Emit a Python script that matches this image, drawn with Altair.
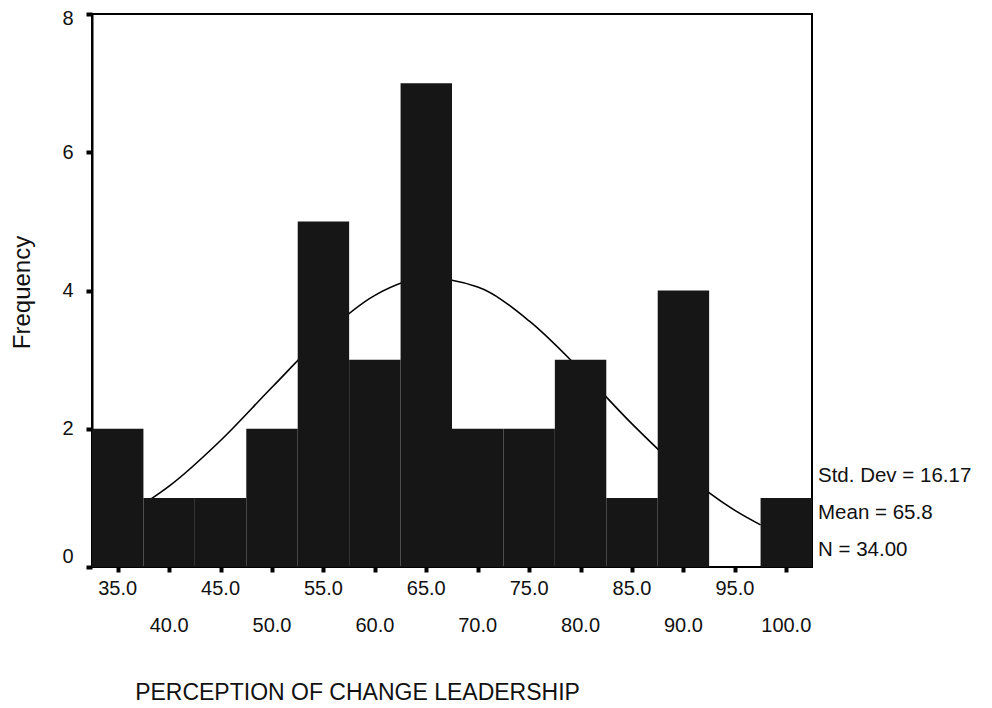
import altair as alt
import pandas as pd

# ---- data ----
bin_centers = [35, 40, 45, 50, 55, 60, 65, 70, 75, 80, 85, 90, 95, 100]
frequencies = [2, 1, 1, 2, 5, 3, 7, 2, 2, 3, 1, 4, 0, 1]
bin_width = 5

curve_x = [38, 40, 45, 50, 55, 60, 65, 70, 75, 80, 85, 90, 95, 97.5]
curve_y = [0.96, 1.17, 1.83, 2.60, 3.35, 3.93, 4.18, 4.05, 3.56, 2.85, 2.07, 1.37, 0.82, 0.61]

labels_row1 = [35, 45, 55, 65, 75, 85, 95]
labels_row2 = [40, 50, 60, 70, 80, 90, 100]
y_ticks = [0, 2, 4, 6, 8]

stats_lines = ["Std. Dev = 16.17", "Mean = 65.8", "N = 34.00"]
x_title = "PERCEPTION OF CHANGE LEADERSHIP"
y_title = "Frequency"

FONT = "Liberation Sans"

bars_df = pd.DataFrame({"center": bin_centers, "freq": frequencies})
bars_df["start"] = bars_df["center"] - bin_width / 2
bars_df["end"] = bars_df["center"] + bin_width / 2

curve_df = pd.DataFrame({"x": curve_x, "y": curve_y})
row1_df = pd.DataFrame({"v": labels_row1, "lab": [f"{v:.1f}" for v in labels_row1]})
row2_df = pd.DataFrame({"v": labels_row2, "lab": [f"{v:.1f}" for v in labels_row2]})

xscale = alt.Scale(domain=[32.5, 102.5], nice=False, zero=False)
yscale = alt.Scale(domain=[0, 8], nice=False, zero=True)

xaxis = alt.Axis(
    values=bin_centers, labels=False, grid=False, domain=False,
    tickSize=5, tickWidth=4, tickColor="black",
    title=x_title, titleX=265, titleY=125, titleAlign="center",
    titleBaseline="middle", titleFont=FONT, titleFontSize=23,
    titleFontWeight="normal", titleColor="#111111",
)
yaxis = alt.Axis(
    values=y_ticks, grid=False, domain=True, domainColor="black", domainWidth=2,
    tickSize=6, tickWidth=4, tickColor="black",
    labelFont=FONT, labelFontSize=20, labelColor="#111111", labelPadding=13,
    labelOffset={
        "condition": [
            {"test": "datum.value == 0", "value": -11},
            {"test": "datum.value == 8", "value": 4},
        ],
        "value": 0,
    },
    title=y_title, titleX=-70, titleY=278, titleAngle=270, titleAlign="center",
    titleBaseline="middle", titleFont=FONT, titleFontSize=24,
    titleFontWeight="normal", titleColor="#111111",
)

curve = alt.Chart(curve_df).mark_line(
    color="black", strokeWidth=1.6, interpolate="monotone"
).encode(
    x=alt.X("x:Q", scale=xscale, axis=xaxis),
    y=alt.Y("y:Q", scale=yscale, axis=yaxis),
)

bars = alt.Chart(bars_df).mark_bar(color="#161616", opacity=1).encode(
    x=alt.X("start:Q", scale=xscale, axis=xaxis),
    x2="end:Q",
    y=alt.Y("freq:Q", scale=yscale, axis=yaxis),
    y2=alt.datum(0),
)

row1 = alt.Chart(row1_df).mark_text(
    font=FONT, fontSize=20, align="center", baseline="middle", color="#111111"
).encode(x=alt.X("v:Q", scale=xscale, axis=xaxis), y=alt.value(575), text="lab:N")

row2 = alt.Chart(row2_df).mark_text(
    font=FONT, fontSize=20, align="center", baseline="middle", color="#111111"
).encode(x=alt.X("v:Q", scale=xscale, axis=xaxis), y=alt.value(612), text="lab:N")

stat_layers = []
for i, line in enumerate(stats_lines):
    stat_layers.append(
        alt.Chart(pd.DataFrame({"t": [line]})).mark_text(
            font=FONT, fontSize=20.5, align="left", baseline="middle", color="#111111"
        ).encode(x=alt.value(726), y=alt.value(462 + 37 * i), text="t:N")
    )

chart = alt.layer(curve, bars, row1, row2, *stat_layers).properties(
    width=720, height=553,
    autosize=alt.AutoSizeParams(type="none"),
    padding={"left": 84, "top": 6, "right": 172, "bottom": 140},
    background="white",
).configure_view(stroke="black", strokeWidth=2)

chart.save("out.html", embed_options={"renderer": "svg", "actions": False})
